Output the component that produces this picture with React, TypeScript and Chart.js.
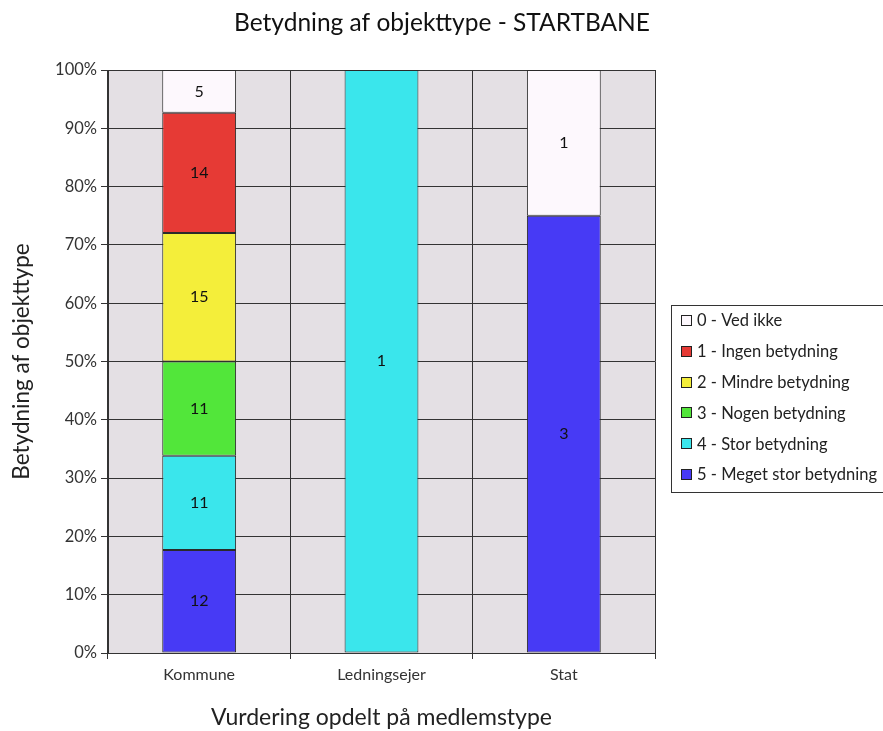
import React, { useEffect, useRef } from "react";
import { Chart, registerables } from "chart.js";

Chart.register(...registerables);

const categories = ["Kommune", "Ledningsejer", "Stat"];
const levelLabels = [
  "0 - Ved ikke",
  "1 - Ingen betydning",
  "2 - Mindre betydning",
  "3 - Nogen betydning",
  "4 - Stor betydning",
  "5 - Meget stor betydning",
];
const countsVedIkke = [5, 0, 1];
const countsIngen = [14, 0, 0];
const countsMindre = [15, 0, 0];
const countsNogen = [11, 0, 0];
const countsStor = [11, 1, 0];
const countsMegetStor = [12, 0, 3];
const levelColors = ["#fdf8fd", "#e63a35", "#f4ee3a", "#52e63a", "#3ae6ec", "#473af5"];

const titleText = "Betydning af objekttype - STARTBANE";
const yTitle = "Betydning af objekttype";
const xTitle = "Vurdering opdelt på medlemstype";

const FONT = "Lato, 'Open Sans', sans-serif";

export default function App() {
  const ref = useRef<HTMLCanvasElement | null>(null);

  useEffect(() => {
    if (!ref.current) return;
    const levels = [countsVedIkke, countsIngen, countsMindre, countsNogen, countsStor, countsMegetStor];
    const totals = categories.map((_, c) => levels.reduce((s, arr) => s + arr[c], 0));
    // bottom to top: level 5 .. level 0
    const order = [5, 4, 3, 2, 1, 0];
    const datasets = order.map((lv) => ({
      label: levelLabels[lv],
      counts: levels[lv],
      data: levels[lv].map((v, c) => (v / totals[c]) * 100),
      backgroundColor: levelColors[lv],
      borderColor: "#2a2a2a",
      borderWidth: 1,
      borderSkipped: false,
      categoryPercentage: 1,
      barPercentage: 0.405,
    }));

    const bgPlugin = {
      id: "bgPlugin",
      beforeDraw(chart: any) {
        const { ctx, chartArea } = chart;
        ctx.save();
        ctx.fillStyle = "#e4e0e4";
        ctx.fillRect(chartArea.left, chartArea.top, chartArea.right - chartArea.left, chartArea.bottom - chartArea.top);
        ctx.restore();
      },
    };

    const labelPlugin = {
      id: "labelPlugin",
      afterDatasetsDraw(chart: any) {
        const { ctx } = chart;
        ctx.save();
        ctx.font = `16px ${FONT}`;
        ctx.fillStyle = "#111";
        ctx.textAlign = "center";
        ctx.textBaseline = "middle";
        chart.data.datasets.forEach((ds: any, di: number) => {
          const meta = chart.getDatasetMeta(di);
          meta.data.forEach((bar: any, i: number) => {
            const v = ds.counts[i];
            if (!v) return;
            ctx.fillText(String(v), bar.x, (bar.y + bar.base) / 2);
          });
        });
        ctx.restore();
      },
    };

    const decorPlugin = {
      id: "decorPlugin",
      afterDraw(chart: any) {
        const { ctx } = chart;
        ctx.save();
        // title
        ctx.font = `24.5px ${FONT}`;
        ctx.fillStyle = "#111";
        ctx.textAlign = "center";
        ctx.textBaseline = "middle";
        ctx.fillText(titleText, 442, 23);
        // legend
        ctx.strokeStyle = "#333";
        ctx.lineWidth = 1;
        ctx.strokeRect(671.5, 305.5, 240, 187);
        ctx.font = `16.5px ${FONT}`;
        ctx.textAlign = "left";
        for (let i = 0; i < levelLabels.length; i++) {
          const y = 321 + i * 30.8;
          ctx.fillStyle = levelColors[i];
          ctx.fillRect(681.5, Math.round(y) - 5.5, 10, 10);
          ctx.strokeStyle = "#222";
          ctx.strokeRect(681.5, Math.round(y) - 5.5, 10, 10);
          ctx.fillStyle = "#222";
          ctx.fillText(levelLabels[i], 697, y);
        }
        ctx.restore();
      },
    };

    const chart = new Chart(ref.current, {
      type: "bar",
      data: { labels: categories, datasets: datasets as any },
      options: {
        responsive: false,
        animation: false,
        devicePixelRatio: 1,
        layout: { padding: { top: 70, right: 228, left: 0, bottom: 0 } },
        plugins: {
          legend: { display: false },
          title: { display: false },
          tooltip: { enabled: false },
        },
        scales: {
          x: {
            stacked: true,
            afterFit(scale: any) {
              scale.height = 78;
            },
            grid: {
              offset: true,
              color: "#333",
              lineWidth: 1,
              tickLength: 6,
              drawTicks: true,
            },
            border: { color: "#333", width: 1 },
            ticks: { color: "#333", font: { family: FONT, size: 16 }, padding: 6 },
            title: {
              display: true,
              text: xTitle,
              color: "#222",
              font: { family: FONT, size: 23 },
              padding: { top: 0, bottom: 0 },
            },
          },
          y: {
            stacked: true,
            min: 0,
            max: 100,
            afterFit(scale: any) {
              scale.width = 108;
            },
            grid: { color: "#333", lineWidth: 1, tickLength: 7 },
            border: { color: "#333", width: 1 },
            ticks: {
              stepSize: 10,
              color: "#333",
              font: { family: FONT, size: 16.5 },
              padding: 4,
              callback: (v: any) => `${v}%`,
            },
            title: {
              display: true,
              text: yTitle,
              color: "#222",
              font: { family: FONT, size: 22.5 },
              padding: { top: 8, bottom: 0 },
            },
          },
        },
      },
      plugins: [bgPlugin, labelPlugin, decorPlugin],
    });
    return () => chart.destroy();
  }, []);

  return (
    <div style={{ position: "absolute", left: 0, top: 0, width: 883, height: 731, background: "#fff" }}>
      <canvas ref={ref} width={883} height={731} />
    </div>
  );
}
